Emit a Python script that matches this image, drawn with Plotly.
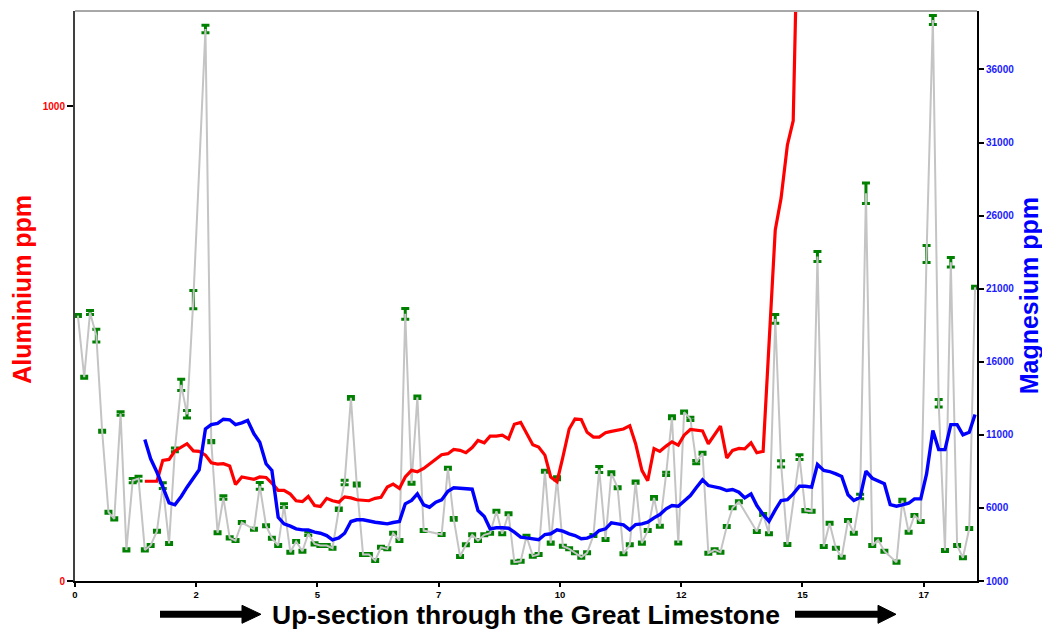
import plotly.graph_objects as go

# Sample depth positions (one row per unit of the section)
depth = [
    0.06, 0.19, 0.31, 0.44, 0.56, 0.69, 0.81, 0.94,
    1.06, 1.19, 1.31, 1.44, 1.56, 1.69, 1.81, 1.94,
    2.06, 2.19, 2.31, 2.44, 2.56, 2.69, 2.81, 2.94,
    3.06, 3.19, 3.31, 3.44, 3.56, 3.69, 3.81, 3.94,
    4.06, 4.19, 4.31, 4.44, 4.56, 4.69, 4.81, 4.94,
    5.06, 5.19, 5.31, 5.44, 5.56, 5.69, 5.81, 5.94,
    6.06, 6.19, 6.31, 6.44, 6.56, 6.69, 6.81, 6.94,
    7.06, 7.19, 7.31, 7.44, 7.56, 7.69, 7.81, 7.94,
    8.06, 8.19, 8.31, 8.44, 8.56, 8.69, 8.81, 8.94,
    9.06, 9.19, 9.31, 9.44, 9.56, 9.69, 9.81, 9.94,
    10.06, 10.19, 10.31, 10.44, 10.56, 10.69, 10.81, 10.94,
    11.06, 11.19, 11.31, 11.44, 11.56, 11.69, 11.81, 11.94,
    12.06, 12.19, 12.31, 12.44, 12.56, 12.69, 12.81, 12.94,
    13.06, 13.19, 13.31, 13.44, 13.56, 13.69, 13.81, 13.94,
    14.06, 14.19, 14.31, 14.44, 14.56, 14.69, 14.81, 14.94,
    15.06, 15.19, 15.31, 15.44, 15.56, 15.69, 15.81, 15.94,
    16.06, 16.19, 16.31, 16.44, 16.56, 16.69, 16.81, 16.94,
    17.06, 17.19, 17.31, 17.44, 17.56, 17.69, 17.81, 17.94,
    18.06, 18.19, 18.31, 18.44, 18.56,
]

# Raw magnesium analyses (ppm)
mg_raw = [
    19160, 14940, 19370, 17790, 11250, 5710, 5250, 12460,
    3130, 7870, 8010, 3130, 3430, 4410, 7530, 3570,
    9970, 14420, 12410, 20250, None, 38770, 10540, 4300,
    6710, 3950, 3770, 5000, None, 4540, 7510, 4780,
    3930, 3430, 6160, 2970, 3700, 3040, 4230, 3540,
    3430, 3430, 3240, 5910, 7740, 13530, 7600, 2810,
    2810, 2400, 3310, 3200, 4270, 3770, 19280, 7690,
    13570, 4450, None, None, 4180, 8720, 5250, 2680,
    3480, 4160, 3770, 4160, 4270, 5770, 4230, 5600,
    2290, 2350, 4060, 2700, 2810, 8510, 3590, 8030,
    3380, 3200, 2930, 2630, 2930, 4110, 8630, 3840,
    8370, 7380, 2860, 3480, 7760, 3590, 4450, 6690,
    4750, 8330, 12200, 3600, 12550, 12090, 9130, 9740,
    2900, 3130, 2970, 4730, 6010, 6420, None, None,
    4390, 5550, 4230, 18930, 9020, 3500, None, 9470,
    5820, 5770, 23200, 3360, 4950, 3240, 2630, 5140,
    4270, 6780, 27530, 3430, 3820, 3040, None, 2290,
    6510, 4340, 5480, 5070, 23380, 39390, 13160, 3090,
    22810, 3430, 2590, 4590, 21100,
]

# Analytical error on magnesium (ppm)
mg_err = [
    70, 70, 140, 430, 70, 70, 70, 115,
    70, 140, 160, 70, 70, 70, 195, 70,
    125, 390, 250, 625, 0, 250, 80, 70,
    115, 70, 70, 70, 0, 70, 230, 70,
    70, 70, 125, 70, 70, 70, 115, 70,
    70, 70, 70, 80, 150, 100, 100, 70,
    70, 70, 70, 70, 70, 70, 365, 70,
    80, 70, 0, 0, 70, 70, 100, 70,
    70, 70, 70, 70, 70, 70, 70, 70,
    70, 70, 70, 70, 70, 70, 70, 100,
    70, 70, 70, 70, 70, 70, 200, 70,
    100, 70, 70, 70, 80, 70, 70, 100,
    70, 115, 100, 70, 80, 115, 115, 70,
    70, 70, 70, 70, 70, 70, 0, 0,
    70, 70, 70, 300, 215, 70, 0, 160,
    80, 70, 340, 70, 70, 70, 70, 70,
    70, 160, 695, 70, 70, 70, 0, 70,
    80, 70, 70, 70, 580, 310, 250, 70,
    330, 70, 70, 70, 70,
]

# Running average of aluminium (ppm)
al_avg = [
    None, None, None, None, None, None, None, None,
    None, None, None, 210, 210, 210, 254, 256,
    274, 281, 289, 274, 273, 265, 249, 246,
    247, 242, 203, 219, 216, 214, 219, 218,
    206, 191, 191, 183, 169, 167, 178, 159,
    157, 174, 169, 166, 177, 175, 171, 170,
    169, 174, 176, 198, 204, 195, 219, 233,
    230, 237, 247, 256, 266, 268, 277, 275,
    270, 281, 296, 291, 305, 305, 307, 299,
    330, 334, 311, 287, 282, 265, 219, 209,
    261, 320, 341, 340, 313, 303, 303, 312,
    315, 317, 320, 327, 289, 233, 211, 279,
    273, 284, 293, 286, 307, 319, 317, 316,
    289, 309, 326, 259, 275, 279, 278, 291,
    270, 273, 500, 739, 806, 918, 969, 1573,
    None, None, None, None, None, None, None, None,
    None, None, None, None, None, None, None, None,
    None, None, None, None, None, None, None, None,
    None, None, None, None, None,
]

# Running average of magnesium (ppm)
mg_avg = [
    None, None, None, None, None, None, None, None,
    None, None, None, 10680, 9360, 8440, 7420, 6350,
    6210, 6780, 7420, 7990, 8610, 11410, 11700, 11790,
    12070, 12030, 11700, 11820, 11980, 11070, 10490, 9020,
    8560, 5360, 4910, 4750, 4570, 4500, 4500, 4340,
    4270, 4110, 3820, 3950, 4270, 5070, 5190, 5190,
    5090, 5020, 4970, 4910, 5000, 5070, 6280, 6510,
    6960, 6210, 6050, 6390, 6550, 7140, 7380, 7350,
    7280, 7280, 5820, 5410, 4570, 4640, 4640, 4610,
    4340, 4000, 3950, 3890, 3820, 4180, 4230, 4500,
    4410, 4230, 4110, 3890, 3930, 4110, 4450, 4570,
    4980, 4910, 4840, 4500, 4860, 4910, 5020, 5320,
    5550, 5940, 6160, 6120, 6460, 6850, 7380, 7920,
    7530, 7460, 7350, 7190, 7260, 7070, 6690, 6960,
    6160, 5550, 5090, 5870, 6510, 6570, 6960, 7480,
    7480, 7420, 8970, 8560, 8490, 8330, 8150, 6900,
    6510, 6730, 8510, 8030, 7870, 7650, 6230, 6120,
    6210, 6320, 6620, 6620, 8330, 11290, 9990, 9990,
    11700, 11700, 11000, 11180, 12390,
]

x_tickvals = [0, 2.5, 5, 7.5, 10, 12.5, 15, 17.5]
x_ticktext = ["0", "2", "5", "7", "10", "12", "15", "17"]
mg_tickvals = [1000, 6000, 11000, 16000, 21000, 26000, 31000, 36000]
mg_ticktext = ["1000", "6000", "11000", "16000", "21000", "26000", "31000", "36000"]
al_tickvals = [0, 1000]
al_ticktext = ["0", "1000"]

FONT = "Liberation Sans, Arial, sans-serif"

fig = go.Figure()

fig.add_trace(go.Scatter(
    x=depth, y=mg_raw, mode="lines", yaxis="y", connectgaps=True,
    line=dict(color="#c4c4c4", width=2),
    error_y=dict(type="data", array=mg_err, visible=True,
                 color="#008000", thickness=3, width=4),
    hoverinfo="skip",
))
fig.add_trace(go.Scatter(
    x=depth, y=al_avg, mode="lines", yaxis="y2",
    line=dict(color="#ff0000", width=3.2),
))
fig.add_trace(go.Scatter(
    x=depth, y=mg_avg, mode="lines", yaxis="y3",
    line=dict(color="#0000ff", width=3.4),
))

def px_x(p):
    return (p - 75) / 902.0

def px_y(p):
    return (580.7 - p) / 570.0

shapes = [
    dict(type="line", xref="paper", yref="paper", x0=0, x1=1, y0=1, y1=1,
         line=dict(color="#a8a8a8", width=2)),
    dict(type="line", xref="paper", yref="paper", x0=px_x(160), x1=px_x(245),
         y0=px_y(614), y1=px_y(614), line=dict(color="black", width=7)),
    dict(type="path", xref="paper", yref="paper",
         path="M %f %f L %f %f L %f %f Z" % (px_x(242), px_y(605), px_x(261), px_y(614),
                                              px_x(242), px_y(623)),
         fillcolor="black", line=dict(color="black", width=1)),
    dict(type="line", xref="paper", yref="paper", x0=px_x(795), x1=px_x(881),
         y0=px_y(614), y1=px_y(614), line=dict(color="black", width=7)),
    dict(type="path", xref="paper", yref="paper",
         path="M %f %f L %f %f L %f %f Z" % (px_x(878), px_y(605), px_x(896), px_y(614),
                                              px_x(878), px_y(623)),
         fillcolor="black", line=dict(color="black", width=1)),
]

annotations = [
    dict(text="<b>Aluminium ppm</b>", xref="paper", yref="paper",
         x=px_x(22), y=px_y(289.5), xanchor="center", yanchor="middle",
         textangle=-90, showarrow=False, font=dict(family=FONT, size=25, color="#ff0000")),
    dict(text="<b>Magnesium ppm</b>", xref="paper", yref="paper",
         x=px_x(1029), y=px_y(296), xanchor="center", yanchor="middle",
         textangle=-90, showarrow=False, font=dict(family=FONT, size=25, color="#0000ff")),
    dict(text="<b>Up-section through the Great Limestone</b>", xref="paper", yref="paper",
         x=px_x(526), y=px_y(614.5), xanchor="center", yanchor="middle", borderpad=0,
         showarrow=False, font=dict(family=FONT, size=26.5, color="black")),
]

fig.update_layout(
    width=1042, height=629,
    margin=dict(l=75, r=65, t=11, b=48),
    plot_bgcolor="white", paper_bgcolor="white",
    showlegend=False,
    font=dict(family=FONT),
    shapes=shapes,
    annotations=annotations,
    xaxis=dict(
        range=[0, 18.6], tickvals=x_tickvals, ticktext=x_ticktext,
        showline=True, linecolor="black", linewidth=1.5,
        ticks="outside", ticklen=4, tickcolor="black", tickwidth=1.5,
        showgrid=False, zeroline=False,
        tickfont=dict(family=FONT, size=9.5, color="black", weight="bold"),
    ),
    yaxis=dict(
        side="right", range=[1000, 40000], tickvals=mg_tickvals, ticktext=mg_ticktext,
        showline=True, linecolor="black", linewidth=2,
        ticks="outside", ticklen=5, tickcolor="black", tickwidth=1.5,
        showgrid=False, zeroline=False,
        tickfont=dict(family=FONT, size=10, color="#1a1aff", weight="bold"),
    ),
    yaxis2=dict(
        overlaying="y", side="left", range=[0, 1200],
        tickvals=al_tickvals, ticktext=al_ticktext,
        showline=True, linecolor="#404040", linewidth=2,
        ticks="outside", ticklen=6, tickcolor="black", tickwidth=1.5,
        showgrid=False, zeroline=False,
        tickfont=dict(family=FONT, size=10, color="#ff0000", weight="bold"),
    ),
    yaxis3=dict(
        overlaying="y", range=[1000, 40000], visible=False,
        showgrid=False, zeroline=False,
    ),
)

fig.write_html("out.html", config={"displayModeBar": False},
               post_script="document.body.style.margin='0';")
